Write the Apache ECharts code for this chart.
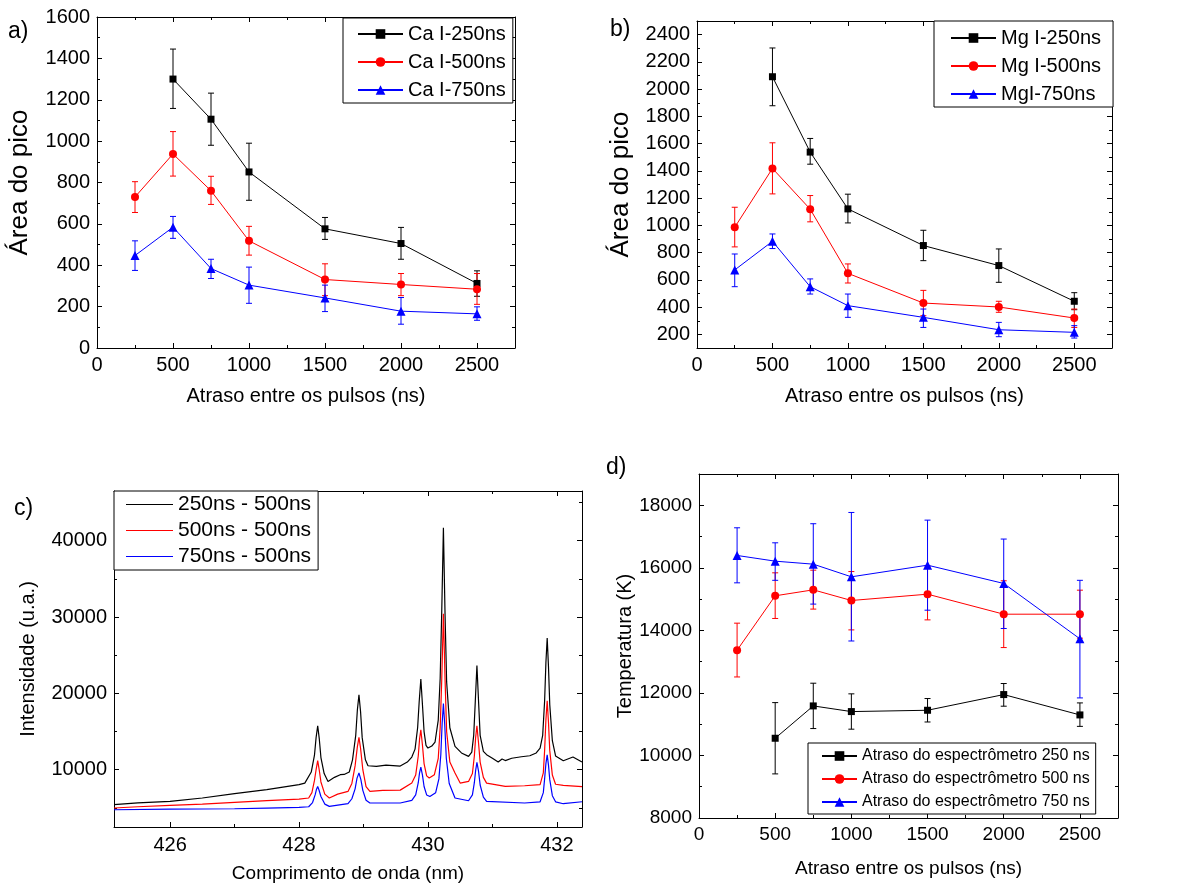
<!DOCTYPE html>
<html><head><meta charset="utf-8">
<script src="https://cdn.jsdelivr.net/npm/echarts@6/dist/echarts.min.js"></script>
<style>html,body{margin:0;padding:0;background:#fff}#chart{width:1185px;height:885px}</style>
</head><body><div id="chart"></div>
<script>
const FONT = "'Liberation Sans', Arial, sans-serif";
const delays = [250, 500, 750, 1000, 1500, 2000, 2500];

// ---- panel a: Ca I ----
const caNames = ['Ca I-250ns', 'Ca I-500ns', 'Ca I-750ns'];
const ca250   = [null, 1300, 1106, 851, 576, 505, 312];
const ca250Hi = [null, 1445, 1232, 990, 631, 583, 373];
const ca250Lo = [null, 1158, 980, 714, 525, 429, 250];
const ca500   = [730, 938, 760, 518, 331, 307, 284];
const ca500Hi = [804, 1046, 830, 588, 407, 360, 360];
const ca500Lo = [655, 831, 694, 449, 253, 253, 211];
const ca750   = [447, 584, 384, 304, 242, 178, 165];
const ca750Hi = [518, 636, 429, 391, 304, 244, 199];
const ca750Lo = [375, 530, 336, 216, 176, 115, 134];

// ---- panel b: Mg I ----
const mgNames = ['Mg I-250ns', 'Mg I-500ns', 'MgI-750ns'];
const mg250   = [null, 2091, 1538, 1121, 852, 705, 443];
const mg250Hi = [null, 2302, 1638, 1229, 964, 827, 506];
const mg250Lo = [null, 1878, 1449, 1018, 741, 582, 381];
const mg500   = [986, 1418, 1119, 648, 430, 401, 320];
const mg500Hi = [1133, 1606, 1219, 717, 523, 443, 386];
const mg500Lo = [842, 1231, 1026, 577, 337, 362, 251];
const mg750   = [673, 883, 550, 411, 325, 234, 215];
const mg750Hi = [790, 937, 607, 496, 386, 288, 264];
const mg750Lo = [550, 830, 496, 325, 251, 183, 173];

// ---- panel c: spectra [wavelength nm, intensity] ----
const specNames = ['250ns - 500ns', '500ns - 500ns', '750ns - 500ns'];
const spec250 = [
 [425.13,5420],[425.5,5650],[426.0,5850],[426.5,6300],[427.0,6860],[427.5,7400],[428.0,8040],[428.09,8250],
 [428.19,9700],[428.24,11900],[428.265,14200],[428.29,15760],[428.315,14000],[428.34,11600],[428.39,9500],[428.45,8470],
 [428.55,9000],[428.64,9350],[428.70,9380],[428.78,9700],[428.83,11300],[428.88,14500],[428.905,17800],[428.93,19800],
 [428.955,17600],[428.98,14200],[429.03,11300],[429.07,10520],[429.2,10450],[429.35,10600],[429.57,10480],[429.68,11000],
 [429.75,11660],[429.80,12700],[429.84,15500],[429.865,19000],[429.89,21870],[429.915,18500],[429.94,15000],[429.97,13200],
 [430.00,12840],[430.06,13100],[430.11,13600],[430.16,16500],[430.19,22000],[430.215,31000],[430.24,41700],[430.265,30500],
 [430.29,21500],[430.34,15500],[430.42,13050],[430.52,12200],[430.63,11750],[430.68,12300],[430.71,14500],[430.735,19000],
 [430.76,23650],[430.785,19000],[430.81,14500],[430.86,12400],[430.91,11970],[431.0,11500],[431.09,11000],[431.15,11400],
 [431.2,11200],[431.3,11500],[431.45,11700],[431.58,11830],[431.68,12200],[431.74,12840],[431.78,14500],[431.81,19000],
 [431.83,24000],[431.85,27240],[431.87,23500],[431.89,18500],[431.93,13800],[431.98,11800],[432.10,11180],[432.2,11500],
 [432.25,11660],[432.39,11000]
];
const spec500 = [
 [425.13,4990],[425.5,5150],[426.0,5330],[426.5,5500],[427.0,5720],[427.5,5950],[428.0,6160],[428.15,6300],
 [428.20,7000],[428.24,8600],[428.265,10000],[428.29,11180],[428.315,9900],[428.34,8400],[428.40,6800],[428.47,6300],
 [428.6,6800],[428.76,7160],[428.82,8200],[428.87,10500],[428.905,13000],[428.93,14230],[428.955,12800],[428.99,10000],
 [429.04,7800],[429.1,7160],[429.3,7300],[429.57,7330],[429.75,8250],[429.81,9300],[429.85,11800],[429.87,14000],
 [429.89,15240],[429.915,13200],[429.94,10800],[429.98,9200],[430.02,8910],[430.1,9350],[430.16,11500],[430.19,15500],
 [430.215,22000],[430.24,30420],[430.265,22000],[430.29,15000],[430.34,11000],[430.42,9570],[430.5,8250],[430.63,8470],
 [430.69,9500],[430.72,11800],[430.74,14200],[430.76,15760],[430.785,13500],[430.81,11000],[430.86,9000],[430.91,8250],
 [431.2,7820],[431.5,7900],[431.74,8040],[431.79,9600],[431.81,12500],[431.83,16500],[431.85,19030],[431.87,16200],
 [431.89,12500],[431.93,9300],[431.98,8100],[432.1,7950],[432.39,7780]
];
const spec750 = [
 [425.13,4760],[426.0,4850],[427.0,4890],[427.5,4980],[428.0,5070],[428.15,5150],[428.21,5700],[428.25,6700],
 [428.27,7400],[428.29,7800],[428.31,7350],[428.34,6500],[428.40,5500],[428.47,5200],[428.76,5550],[428.82,6200],
 [428.87,7500],[428.90,8900],[428.93,9570],[428.96,8700],[428.99,7300],[429.04,6000],[429.1,5640],[429.57,5640],
 [429.75,5980],[429.81,6700],[429.85,8300],[429.87,9600],[429.89,10350],[429.915,9300],[429.94,7800],[429.98,6700],
 [430.03,6500],[430.12,7000],[430.17,8800],[430.20,12000],[430.22,16000],[430.24,18680],[430.26,16000],[430.285,11500],
 [430.33,8200],[430.42,6300],[430.63,5940],[430.69,6700],[430.72,8300],[430.74,9900],[430.76,10960],[430.785,9800],
 [430.81,8000],[430.86,6400],[430.91,5850],[431.5,5640],[431.74,5800],[431.79,7000],[431.81,8800],[431.83,10800],
 [431.85,11960],[431.87,10600],[431.89,8700],[431.93,6600],[431.98,5800],[432.1,5550],[432.39,5810]
];

// ---- panel d: temperature ----
const tNames = ['Atraso do espectrômetro 250 ns', 'Atraso do espectrômetro 500 ns', 'Atraso do espectrômetro 750 ns'];
const t250   = [null, 10550, 11584, 11403, 11445, 11947, 11296];
const t250Hi = [null, 11690, 12310, 11970, 11820, 12300, 11680];
const t250Lo = [null, 9410, 10860, 10840, 11070, 11575, 10930];
const t500   = [13365, 15105, 15296, 14955, 15157, 14517, 14517];
const t500Hi = [14230, 15840, 15925, 15880, 16050, 15585, 15285];
const t500Lo = [12510, 14380, 14680, 14015, 14335, 13450, 13750];
const t750   = [16395, 16213, 16117, 15712, 16085, 15500, 13730];
const t750Hi = [17280, 16800, 17410, 17770, 17525, 16920, 15600];
const t750Lo = [15520, 15600, 14840, 13660, 14645, 14060, 11840];

// tick lists
const delayMajors = [0, 500, 1000, 1500, 2000, 2500];
const delayMinors = [250, 750, 1250, 1750, 2250];

const BLACK = '#000000', RED = '#ff0000', BLUE = '#0000ff';

const option = {
  animation: false, backgroundColor: '#fff',
  grid: [
    {left: 97, top: 17, width: 418, height: 331},
    {left: 697, top: 21, width: 415, height: 327},
    {left: 114, top: 491, width: 468, height: 336},
    {left: 699, top: 474, width: 419, height: 344}
  ],
  xAxis: [], yAxis: [], series: [], legend: [], graphic: []
};

function addAxes(g, dim, c) {
  const arr = dim === 'x' ? option.xAxis : option.yAxis;
  const pos = dim === 'x' ? ['bottom', 'top'] : ['left', 'right'];
  const idx = arr.length;
  const base = () => ({type: 'value', gridIndex: g, min: c.min, max: c.max, splitLine: {show: false}});
  const tick = (vals, len) => ({show: true, inside: true, length: len, customValues: vals, lineStyle: {color: '#000', width: 1}});
  arr.push(Object.assign(base(), {
    position: pos[0], name: c.name, nameLocation: 'middle', nameGap: c.nameGap,
    nameTextStyle: {fontFamily: FONT, fontSize: c.nameSize, color: '#000'},
    axisLine: {show: true, onZero: false, lineStyle: {color: '#000', width: 1}},
    axisTick: tick(c.majors, 5),
    axisLabel: {show: true, customValues: c.majors, margin: c.margin, fontFamily: FONT, fontSize: c.labelSize, color: '#000',
      formatter: v => String(Math.round(v))}
  }));
  arr.push(Object.assign(base(), {position: pos[0], axisLine: {show: false, onZero: false}, axisTick: tick(c.minors, 3), axisLabel: {show: false}}));
  arr.push(Object.assign(base(), {position: pos[1], axisLine: {show: true, onZero: false, lineStyle: {color: '#000', width: 1}}, axisTick: tick(c.majors, 5), axisLabel: {show: false}}));
  arr.push(Object.assign(base(), {position: pos[1], axisLine: {show: false, onZero: false}, axisTick: tick(c.minors, 3), axisLabel: {show: false}}));
  return idx;
}

function errRenderer(color) {
  return function (params, api) {
    const x = api.value(0), lo = api.value(1), hi = api.value(2);
    const p1 = api.coord([x, hi]), p2 = api.coord([x, lo]);
    const w = 3;
    const st = {stroke: color, lineWidth: 1, fill: null};
    return {type: 'group', children: [
      {type: 'line', shape: {x1: p1[0], y1: p1[1], x2: p2[0], y2: p2[1]}, style: st},
      {type: 'line', shape: {x1: p1[0] - w, y1: p1[1], x2: p1[0] + w, y2: p1[1]}, style: st},
      {type: 'line', shape: {x1: p2[0] - w, y1: p2[1], x2: p2[0] + w, y2: p2[1]}, style: st}
    ]};
  };
}

function addPoints(xi, yi, name, color, symbol, size, ys, lo, hi) {
  const pts = [], errs = [];
  delays.forEach((x, i) => { if (ys[i] != null) { pts.push([x, ys[i]]); errs.push([x, lo[i], hi[i]]); } });
  option.series.push({type: 'custom', name: name + ' err', xAxisIndex: xi, yAxisIndex: yi, data: errs,
    encode: {x: 0, y: [1, 2]}, renderItem: errRenderer(color), z: 2, silent: true});
  option.series.push({type: 'line', name: name, xAxisIndex: xi, yAxisIndex: yi, data: pts,
    symbol: symbol, symbolSize: size, showSymbol: true, lineStyle: {color: color, width: 1},
    itemStyle: {color: color}, z: 3});
}

function range(a, b, s) { const r = []; for (let v = a; v <= b + 1e-9; v += s) r.push(v); return r; }

// panel a
let xa = addAxes(0, 'x', {min: 0, max: 2750, majors: delayMajors, minors: delayMinors, labelSize: 20, margin: 7,
  name: 'Atraso entre os pulsos (ns)', nameGap: 38, nameSize: 20});
let ya = addAxes(0, 'y', {min: 0, max: 1600, majors: range(0, 1600, 200), minors: range(100, 1500, 200), labelSize: 20, margin: 7,
  name: 'Área do pico', nameGap: 64, nameSize: 26});
addPoints(xa, ya, caNames[0], BLACK, 'rect', 7, ca250, ca250Lo, ca250Hi);
addPoints(xa, ya, caNames[1], RED, 'circle', 8, ca500, ca500Lo, ca500Hi);
addPoints(xa, ya, caNames[2], BLUE, 'triangle', 9, ca750, ca750Lo, ca750Hi);

// panel b
let xb = addAxes(1, 'x', {min: 0, max: 2750, majors: delayMajors, minors: delayMinors, labelSize: 20, margin: 7,
  name: 'Atraso entre os pulsos (ns)', nameGap: 38, nameSize: 20});
let yb = addAxes(1, 'y', {min: 100, max: 2500, majors: range(200, 2400, 200), minors: range(300, 2300, 200), labelSize: 20, margin: 7,
  name: 'Área do pico', nameGap: 63, nameSize: 26});
addPoints(xb, yb, mgNames[0], BLACK, 'rect', 7, mg250, mg250Lo, mg250Hi);
addPoints(xb, yb, mgNames[1], RED, 'circle', 8, mg500, mg500Lo, mg500Hi);
addPoints(xb, yb, mgNames[2], BLUE, 'triangle', 9, mg750, mg750Lo, mg750Hi);

// panel c
let xc = addAxes(2, 'x', {min: 425.13, max: 432.39, majors: [426, 428, 430, 432], minors: [427, 429, 431], labelSize: 20, margin: 8,
  name: 'Comprimento de onda (nm)', nameGap: 37, nameSize: 19});
let yc = addAxes(2, 'y', {min: 2500, max: 46500, majors: [10000, 20000, 30000, 40000], minors: [5000, 15000, 25000, 35000, 45000],
  labelSize: 20, margin: 7, name: 'Intensidade (u.a.)', nameGap: 76, nameSize: 20});
[[specNames[0], spec250, BLACK], [specNames[1], spec500, RED], [specNames[2], spec750, BLUE]].forEach(([n, d, col]) => {
  option.series.push({type: 'line', name: n, xAxisIndex: xc, yAxisIndex: yc, data: d, symbol: 'none', smooth: false,
    lineStyle: {color: col, width: 1.2}, itemStyle: {color: col}, z: 3});
});

// panel d
let xd = addAxes(3, 'x', {min: 0, max: 2750, majors: delayMajors, minors: delayMinors, labelSize: 19, margin: 7,
  name: 'Atraso entre os pulsos (ns)', nameGap: 41, nameSize: 19});
let yd = addAxes(3, 'y', {min: 8000, max: 19000, majors: range(8000, 18000, 2000), minors: range(9000, 17000, 2000), labelSize: 19, margin: 7,
  name: 'Temperatura (K)', nameGap: 58, nameSize: 20});
addPoints(xd, yd, tNames[0], BLACK, 'rect', 7, t250, t250Lo, t250Hi);
addPoints(xd, yd, tNames[1], RED, 'circle', 8, t500, t500Lo, t500Hi);
addPoints(xd, yd, tNames[2], BLUE, 'triangle', 9, t750, t750Lo, t750Hi);

// legends
function legend(data, left, top, itemWidth, itemHeight, fontSize, gap, padding, icon) {
  const l = {data: data, left: left, top: top, orient: 'vertical', itemWidth: itemWidth, itemHeight: itemHeight, itemGap: gap,
    padding: padding, borderColor: '#000', borderWidth: 1, backgroundColor: '#fff',
    textStyle: {fontFamily: FONT, fontSize: fontSize, color: '#000'}, selectedMode: false};
  if (icon) l.icon = icon;
  return l;
}
option.legend.push(legend(caNames, 343, 18, 45, 12, 20, 8, [6, 7, 3, 14]));
option.legend.push(legend(mgNames, 934, 21, 45, 12, 20, 8, [7, 12, 3, 16]));
option.legend.push(legend(specNames, 114, 491, 47, 1.2, 21, 5, [3, 7, 3, 12], 'rect'));
option.legend.push(legend(tNames, 808, 743, 35, 12, 16, 7, [5, 6, 4, 13]));

// panel letters
[['a)', 8, 32], ['b)', 610, 30], ['c)', 14, 509], ['d)', 606, 468]].forEach(([t, x, y]) => {
  option.graphic.push({type: 'text', left: x, top: y - 12, style: {text: t, fontFamily: FONT, fontSize: 23, fill: '#000'}});
});

const chart = echarts.init(document.getElementById('chart'), null, {renderer: 'canvas'});
chart.setOption(option);
</script></body></html>
